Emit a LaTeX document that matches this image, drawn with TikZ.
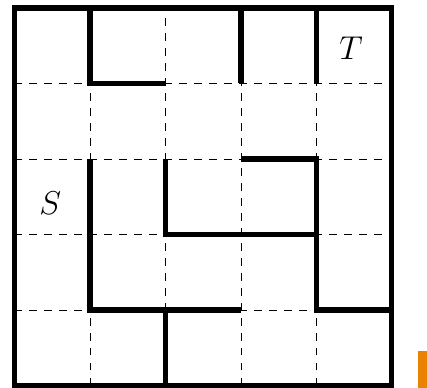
\documentclass[tikz,border=0pt]{standalone}
\begin{document}
\begin{tikzpicture}[x=2cm,y=2cm,
  gridline/.style={line width=0.6pt, dash pattern=on 5.7pt off 5.6pt},
  wall/.style={line width=3.8pt, line cap=butt, line join=miter},
  lbl/.style={inner sep=0pt, font=\fontsize{24}{28}\selectfont}]
\useasboundingbox (-0.192,-0.033) rectangle (5.464,5.106);
% dashed interior grid
\foreach \i in {1,2,3,4}{
  \draw[gridline] (\i,0) -- (\i,5);
  \draw[gridline] (0,\i) -- (5,\i);
}
% outer border
\draw[wall] (0,0) rectangle (5,5);
% walls
\draw[wall] (1,5) -- (1,4) -- (2,4);
\draw[wall] (3,5) -- (3,4);
\draw[wall] (4,5) -- (4,4);
\draw[wall] (1,3) -- (1,1) -- (3,1);
\draw[wall] (2,3) -- (2,2) -- (3,2);
\draw[wall] (3,3) -- (4,3) -- (4,1) -- (5,1);
\draw[wall] (3,2) -- (4,2);
\draw[wall] (2,1) -- (2,0);
% labels
\node[lbl] (T) at (4.457,4.47) {$T$};
\node[lbl] (S) at (0.474,2.413) {$S$};
% orange mark at the edge
\fill[fill={rgb,255:red,232;green,130;blue,0}] (5.344,-0.033) rectangle (5.464,0.457);
\end{tikzpicture}
\end{document}
